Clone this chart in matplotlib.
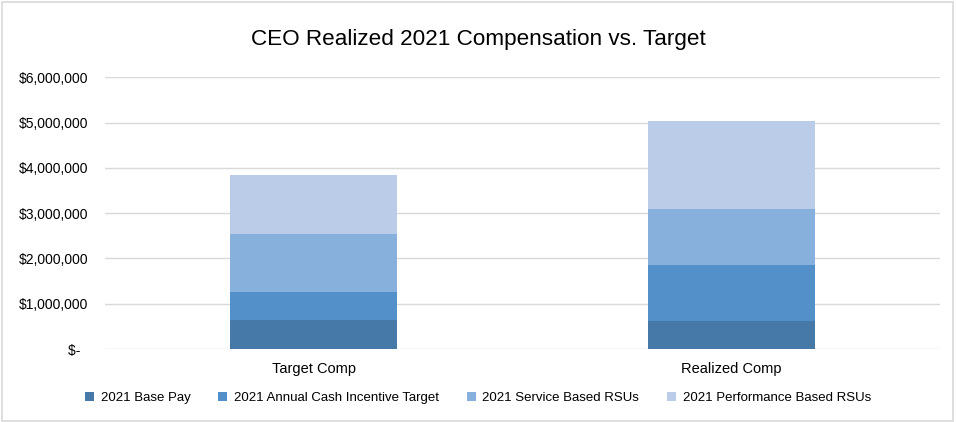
import matplotlib
matplotlib.use("Agg")
import matplotlib.pyplot as plt
from matplotlib.patches import Rectangle
from matplotlib.ticker import FuncFormatter

plt.rcParams['font.family'] = ['Liberation Sans', 'DejaVu Sans']

# data (dollars)
categories = ['Target Comp', 'Realized Comp']
series_names = ['2021 Base Pay', '2021 Annual Cash Incentive Target',
                '2021 Service Based RSUs', '2021 Performance Based RSUs']
base_pay = [640000, 620000]
cash_incentive = [620000, 1235000]
service_rsus = [1270000, 1245000]
performance_rsus = [1310000, 1930000]

colors = ['#4679a8', '#538fc8', '#87b0dc', '#bbcce9']

fig = plt.figure(figsize=(9.56, 4.22), dpi=100)
ax = fig.add_axes([105 / 956, 1 - 349 / 422, 835 / 956, (349 - 77.3) / 422])

x = list(range(len(categories)))
bottom = [0, 0]
for name, vals, c in zip(series_names,
                         [base_pay, cash_incentive, service_rsus, performance_rsus],
                         colors):
    ax.bar(x, vals, width=0.4, bottom=bottom, color=c, label=name, zorder=3)
    bottom = [b + v for b, v in zip(bottom, vals)]

ax.set_xlim(-0.5, 1.5)
ax.set_ylim(0, 6000000)
ax.set_yticks(range(0, 6000001, 1000000))
ax.yaxis.set_major_formatter(FuncFormatter(lambda v, p: '$-  ' if v == 0 else f'${v:,.0f}'))
ax.set_xticks(x)
ax.set_xticklabels(categories)
ax.grid(axis='y', color='#d9d9d9', linewidth=1, zorder=0)
for s in ax.spines.values():
    s.set_visible(False)
ax.tick_params(length=0, colors='#000000')
ax.tick_params(axis='y', pad=12, labelsize=10)
ax.tick_params(axis='x', pad=9, labelsize=10.5)

fig.text(0.5, 1 - 40 / 422, 'CEO Realized 2021 Compensation vs. Target',
         ha='center', va='center', fontsize=16.2)

fig.legend(loc='center', bbox_to_anchor=(0.5, 1 - 398 / 422), ncol=4, frameon=False,
           fontsize=9.5, handlelength=0.7, handleheight=0.7, handletextpad=0.5,
           columnspacing=2.1)

fig.patches.append(Rectangle((0.002, 0.003), 0.995, 0.993, transform=fig.transFigure,
                             fill=False, edgecolor='#d9d9d9', linewidth=1.2))

fig.savefig('out.png', dpi=100)
